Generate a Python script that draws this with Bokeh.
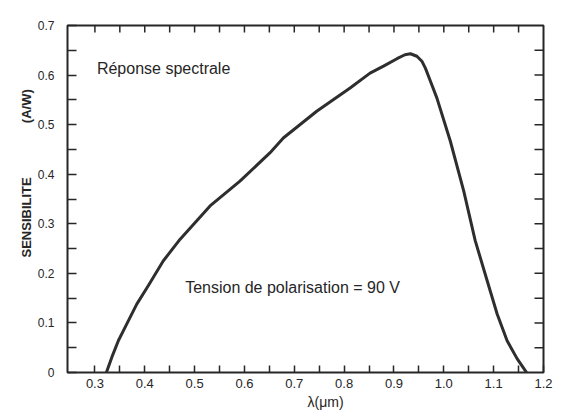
from math import pi

from bokeh.embed import file_html
from bokeh.models import FixedTicker, Label, Range1d, Title
from bokeh.plotting import figure
from bokeh.resources import INLINE

# Spectral response of the photodiode (wavelength in µm, sensitivity in A/W)
wavelength = [0.323, 0.334, 0.347, 0.364, 0.384, 0.407, 0.437, 0.471, 0.531,
              0.591, 0.651, 0.678, 0.745, 0.812, 0.852, 0.879, 0.906, 0.922,
              0.933, 0.946, 0.956, 0.963, 0.973, 0.986, 1.013, 1.040, 1.063,
              1.087, 1.107, 1.127, 1.147, 1.158, 1.166]
sensitivity = [0.000, 0.031, 0.064, 0.098, 0.138, 0.175, 0.225, 0.269, 0.336,
               0.386, 0.443, 0.473, 0.527, 0.574, 0.604, 0.618, 0.633, 0.641,
               0.643, 0.638, 0.628, 0.614, 0.588, 0.554, 0.467, 0.366, 0.266,
               0.185, 0.118, 0.064, 0.028, 0.012, 0.000]

x_major = [0.3, 0.4, 0.5, 0.6, 0.7, 0.8, 0.9, 1.0, 1.1, 1.2]
x_labels = ["0.3", "0.4", "0.5", "0.6", "0.7", "0.8", "0.9", "1.0", "1.1", "1.2"]
x_minor = [0.35, 0.45, 0.55, 0.65, 0.75, 0.85, 0.95, 1.05, 1.15]
x_top = [0.3, 0.35, 0.4, 0.45, 0.5, 0.55, 0.6, 0.65, 0.7, 0.75, 0.8, 0.85,
         0.9, 0.95, 1.0, 1.05, 1.1, 1.15]

y_major = [0.0, 0.1, 0.2, 0.3, 0.4, 0.5, 0.6, 0.7]
y_labels = ["0", "0.1", "0.2", "0.3", "0.4", "0.5", "0.6", "0.7"]
y_minor = [0.05, 0.15, 0.25, 0.35, 0.45, 0.55, 0.65]
y_right = [0.05, 0.1, 0.15, 0.2, 0.25, 0.3, 0.35, 0.4, 0.45, 0.5, 0.55,
           0.6, 0.65]

FONT = "Liberation Sans"
INK = "#262626"
GAP = "\u00a0" * 15

X0, X1 = 0.245, 1.2
Y0, Y1 = 0.0, 0.7

p = figure(width=572, height=420, x_range=Range1d(X0, X1),
           y_range=Range1d(Y0, Y1), output_backend="svg",
           toolbar_location=None, min_border_left=67, min_border_right=29,
           min_border_top=25, min_border_bottom=48)
p.grid.visible = False
p.outline_line_color = INK
p.outline_line_width = 2


def style_axis(ax, tick_len, label_size, standoff):
    ax.axis_line_color = None
    ax.major_tick_in = tick_len
    ax.major_tick_out = 0
    ax.minor_tick_in = tick_len
    ax.minor_tick_out = 0
    ax.major_tick_line_color = INK
    ax.minor_tick_line_color = INK
    ax.major_tick_line_width = 1.5
    ax.minor_tick_line_width = 1.5
    ax.major_label_text_font = FONT
    ax.major_label_text_font_size = label_size
    ax.major_label_text_color = INK
    ax.major_label_standoff = standoff


xa = p.xaxis[0]
xa.ticker = FixedTicker(ticks=x_major, minor_ticks=x_minor)
xa.major_label_overrides = dict(zip(x_major, x_labels))
style_axis(xa, 7, "13px", 6)

ya = p.yaxis[0]
ya.ticker = FixedTicker(ticks=y_major, minor_ticks=y_minor)
ya.major_label_overrides = dict(zip(y_major, y_labels))
style_axis(ya, 9, "12px", 13)

# Inward ticks along the top and right edges of the frame (half of each
# dash falls outside the frame and is clipped away)
p.scatter(x=x_top, y=[Y1] * len(x_top), marker="dash", angle=pi / 2,
          size=14, line_color=INK, line_width=1.5)
p.scatter(x=[X1] * len(y_right), y=y_right, marker="dash", size=18,
          line_color=INK, line_width=1.5)

p.line(wavelength, sensitivity, line_color="#2e2e2e", line_width=3,
       line_join="round", line_cap="round")

p.add_layout(Label(x=0.304, y=0.614, text="Réponse spectrale",
                   text_font=FONT, text_font_size="16px", text_color=INK,
                   text_baseline="alphabetic"))
p.add_layout(Label(x=0.481, y=0.172, text="Tension de polarisation = 90 V",
                   text_font=FONT, text_font_size="16px", text_color=INK,
                   text_baseline="alphabetic"))

# Axis titles: the wavelength one sits right of centre, the vertical one
# starts partway up the frame
p.add_layout(Title(text="λ(μm)", align="left", offset=240, standoff=2,
                   text_font=FONT, text_font_size="14px",
                   text_font_style="normal", text_color=INK), "below")
p.add_layout(Title(text="SENSIBILITE" + GAP + "(A/W)", align="left",
                   offset=115, standoff=2, text_font=FONT,
                   text_font_size="13px", text_font_style="bold",
                   text_color=INK), "left")

open("out.html", "w").write(file_html(p, INLINE))
